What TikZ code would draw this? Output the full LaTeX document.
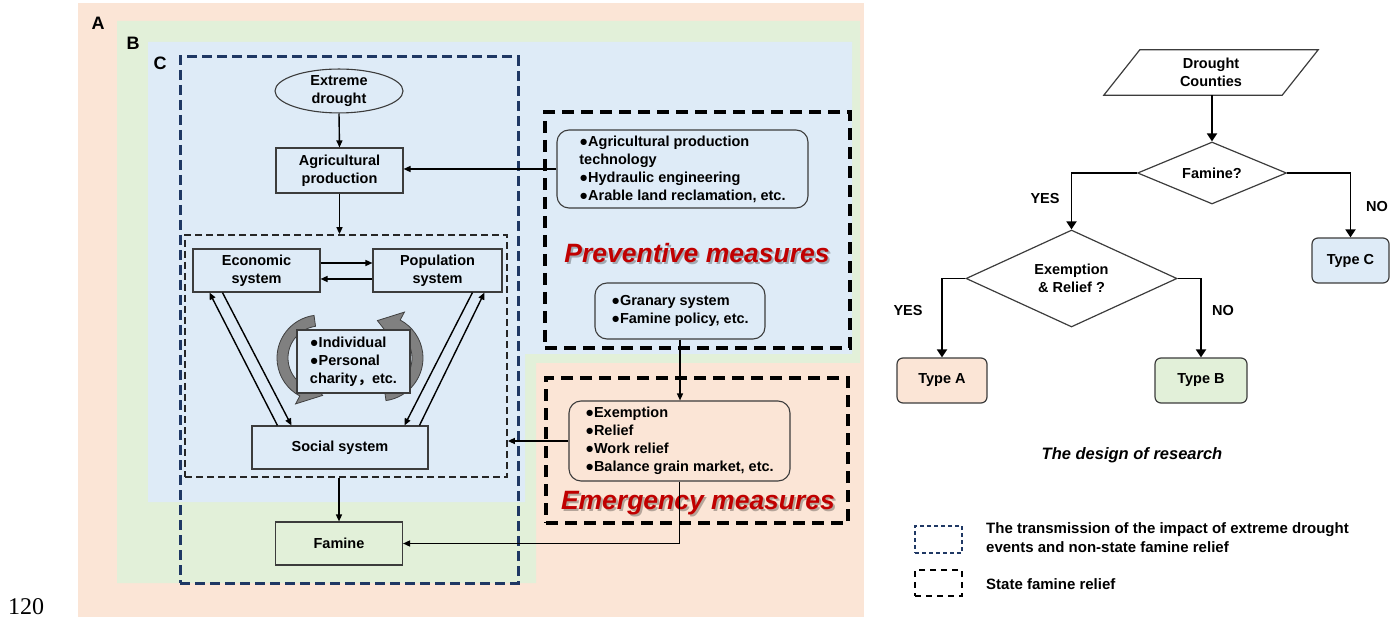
\documentclass[tikz,border=0pt]{standalone}
\usepackage{fontspec}
\setmainfont{Liberation Sans}
\newfontfamily\serifnum{Liberation Serif}
\newfontfamily\cjk{Noto Sans CJK SC}
\usetikzlibrary{arrows.meta,shapes.geometric,calc}
\definecolor{bgA}{RGB}{251,229,214}
\definecolor{bgB}{RGB}{226,240,217}
\definecolor{bgC}{RGB}{222,235,247}
\definecolor{navy}{RGB}{31,56,100}
\definecolor{redt}{RGB}{192,0,0}
\definecolor{edge}{RGB}{60,60,60}
\tikzset{
  lbl/.style={font=\bfseries\fontsize{14.5}{18}\selectfont, align=center, inner sep=0pt},
  sbox/.style={lbl, draw=edge, line width=1.1pt, rectangle},
  rbox/.style={lbl, draw=edge, line width=1.1pt, rectangle, rounded corners=12pt, align=left},
  conn/.style={line width=1.4pt, -{Triangle[length=7pt,width=6pt]}},
  flow/.style={line width=1.8pt, -{Triangle[length=8pt,width=10pt]}},
  navybox/.style={draw=navy, line width=3pt, dash pattern=on 10pt off 5pt},
  thinbox/.style={draw=black!85, line width=1.7pt, dash pattern=on 7pt off 4pt},
  bigbox/.style={draw=black, line width=3.2pt, dash pattern=on 12pt off 7pt},
  region/.style={font=\bfseries\fontsize{18}{20}\selectfont, inner sep=0pt},
  title/.style={font=\bfseries\itshape\fontsize{26.5}{30}\selectfont, inner sep=0pt, text=redt},
  tshadow/.style={font=\bfseries\itshape\fontsize{26.5}{30}\selectfont, inner sep=0pt, text=black, opacity=0.28},
  carrow/.style={fill=gray, draw=black!75, line width=0.8pt},
  tbox/.style={lbl, draw=edge, line width=1.2pt, rounded corners=6pt},
  fshape/.style={draw=edge, line width=1.2pt},
  legtext/.style={font=\bfseries\fontsize{15}{19}\selectfont, inner sep=0pt, align=left, anchor=west},
}
% curved block arrow; angles measured in picture pixels (y downward)
\newcommand\curvarrow[3]{%
  \draw[carrow] ($(#1,#2)+({262+#3}:43)$) arc[start angle={-(262+#3)}, end angle={-(118+#3)}, radius=43pt]
    -- ($(#1,#2)+({118+#3}:52)$) -- ($(#1,#2)+({86+#3}:37.5)$) -- ($(#1,#2)+({118+#3}:23)$)
    -- ($(#1,#2)+({118+#3}:32)$) arc[start angle={-(118+#3)}, end angle={-(262+#3)}, radius=32pt] -- cycle;}
\begin{document}
\begin{tikzpicture}[x=1pt,y=-1pt]
\useasboundingbox (0,0) rectangle (1397,617);
% background regions
\fill[bgA] (78,3) rectangle (864,617);
\fill[bgB] (117,21) -- (860,21) -- (860,363) -- (536,363) -- (536,583) -- (117,583) -- cycle;
\fill[bgC] (148,42) -- (852,42) -- (852,354) -- (525,354) -- (525,502) -- (148,502) -- cycle;
\node[region] (labA) at (98,23) {A};
\node[region] (labB) at (133,43) {B};
\node[region] (labC) at (160,63) {C};
% dashed frames
\node[navybox, minimum width=338, minimum height=526] (trans) at (349,320) {};
\node[thinbox, minimum width=322, minimum height=242] (inner) at (346,356) {};
\node[bigbox, minimum width=305, minimum height=236] (prev) at (697.5,230) {};
\node[bigbox, minimum width=302, minimum height=145] (emer) at (697,450.5) {};
% left diagram
\node[lbl, draw=edge, line width=1.1pt, ellipse, minimum width=128, minimum height=42] (ext) at (339,91) {Extreme\\drought};
\node[sbox, minimum width=127, minimum height=45] (agri) at (339.5,170.5) {Agricultural\\production};
\node[sbox, minimum width=127, minimum height=43] (eco) at (256.5,270.5) {Economic\\system};
\node[sbox, minimum width=129, minimum height=43] (pop) at (437.5,270.5) {Population\\system};
\node[sbox, minimum width=176, minimum height=43] (soc) at (340,447.5) {Social system};
\node[sbox, minimum width=127, minimum height=43] (fam) at (339,543.5) {Famine};
\curvarrow{320}{358}{0}
\curvarrow{380}{358}{180}
\node[sbox, fill=bgC, align=left, minimum width=113, minimum height=63] (ind) at (353.5,361.5) {●Individual\\●Personal\\charity{\cjk ，}etc.};
% measures
\node[rbox, minimum width=251, minimum height=78] (tech) at (682.5,169) {●Agricultural production\\technology\\●Hydraulic engineering\\●Arable land reclamation, etc.};
\node[rbox, minimum width=170, minimum height=56] (gran) at (680,311) {●Granary system\\●Famine policy, etc.};
\node[rbox, minimum width=221, minimum height=80] (exm) at (679.5,441) {●Exemption\\●Relief\\●Work relief\\●Balance grain market, etc.};
\node[tshadow] (prevs) at (699,255) {Preventive measures};
\node[title] (prevt) at (697,253) {Preventive measures};
\node[tshadow] (emers) at (700,505) {Emergency measures};
\node[title] (emert) at (698,503) {Emergency measures};
% connectors
\draw[conn] (ext.south) -- (agri.north);
\draw[conn] (agri.south) -- (agri.south |- inner.north);
\draw[conn] ($(eco.east)+(0,-7.5)$) -- ($(pop.west)+(0,-7.5)$);
\draw[conn] ($(pop.west)+(0,8.5)$) -- ($(eco.east)+(0,8.5)$);
\draw[conn] ($(soc.north west)+(26,0)$) -- ($(eco.south west)+(17,0)$);
\draw[conn] ($(eco.south west)+(30,0)$) -- ($(soc.north west)+(40,0)$);
\draw[conn] ($(pop.south west)+(100,0)$) -- ($(soc.north west)+(153,0)$);
\draw[conn] ($(soc.north west)+(168,0)$) -- ($(pop.south west)+(112,0)$);
\draw[conn] (inner.south -| fam.north) -- (fam.north);
\draw[conn] (tech.west) -- (tech.west -| agri.east);
\draw[conn] (gran.south) -- (gran.south |- exm.north);
\draw[conn] (exm.west) -- (exm.west -| inner.east);
\draw[conn] (exm.south) |- (fam.east);
% flowchart
\node[lbl, minimum width=142, minimum height=45] (dc) at (1211,72.5) {Drought\\Counties};
\draw[fshape] (dc.north west) -- ($(dc.north east)+(36,0)$) -- (dc.south east) -- ($(dc.south west)+(-36,0)$) -- cycle;
\node[lbl, diamond, fshape, aspect=2.4, minimum width=149, minimum height=62] (fd) at (1212,173) {Famine?};
\node[lbl, diamond, fshape, aspect=2.17, minimum width=211, minimum height=97] (ed) at (1071.5,278.5) {Exemption\\\& Relief ?};
\node[tbox, fill=bgC, minimum width=77, minimum height=45] (tc) at (1350.5,260.5) {Type C};
\node[tbox, fill=bgA, minimum width=90, minimum height=45] (ta) at (942,380.5) {Type A};
\node[tbox, fill=bgB, minimum width=92, minimum height=45] (tb) at (1201,380.5) {Type B};
\draw[flow] (fd.north |- dc.south) -- (fd.north);
\draw[flow] (fd.west) -| (ed.north);
\draw[flow] (fd.east) -| (tc.north);
\draw[flow] (ed.west) -| (ta.north);
\draw[flow] (ed.east) -| (tb.north);
\node[lbl] (yes1) at (1045,199) {YES};
\node[lbl] (no1) at (1377,207) {NO};
\node[lbl] (yes2) at (908,311) {YES};
\node[lbl] (no2) at (1223,311) {NO};
\node[font=\bfseries\itshape\fontsize{16.5}{20}\selectfont, inner sep=0pt] (cap) at (1132,455) {The design of research};
% legend
\node[draw=navy, line width=1.5pt, dash pattern=on 4pt off 3pt, minimum width=47, minimum height=27, inner sep=0pt] (legn) at (938.5,539.5) {};
\node[draw=black, line width=1.8pt, dash pattern=on 6pt off 5pt, minimum width=47, minimum height=26, inner sep=0pt] (legb) at (938.5,583) {};
\node[legtext] (legnt) at (986,537.5) {The transmission of the impact of extreme drought\\events and non-state famine relief};
\node[legtext] (legbt) at (986,584) {State famine relief};
\node[font=\serifnum\fontsize{24}{26}\selectfont, inner sep=0pt, anchor=base west] (pnum) at (8,614) {120};
\end{tikzpicture}
\end{document}
